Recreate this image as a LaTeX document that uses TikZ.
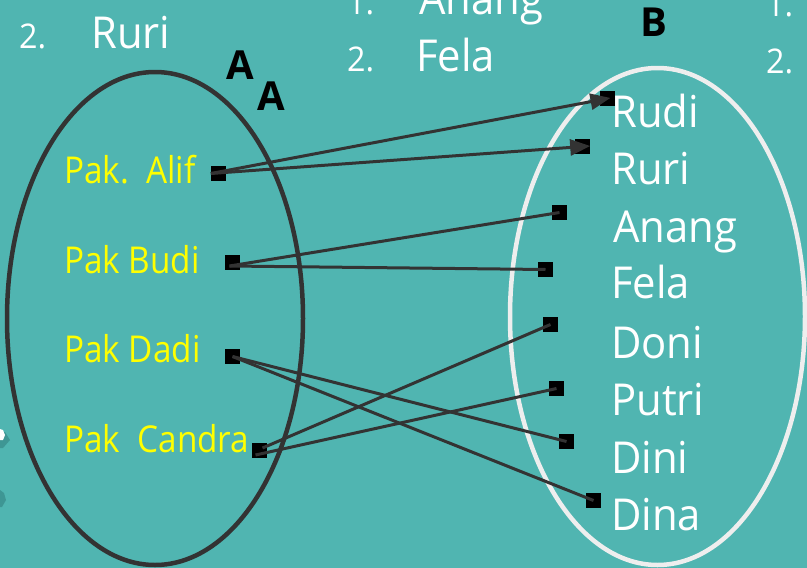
\documentclass[tikz,border=0pt]{standalone}
\usepackage{fontspec}
\setmainfont{Open Sans}[FakeStretch=0.9]
\newfontfamily\rfont{Open Sans}[FakeStretch=0.95]
\newfontfamily\boldfont{Open Sans}
\usetikzlibrary{arrows.meta}
\definecolor{bg}{RGB}{80,181,177}
\definecolor{bgdark}{RGB}{62,150,148}
\definecolor{ink}{RGB}{51,51,51}
\definecolor{rim}{RGB}{238,238,238}
\definecolor{lab}{RGB}{255,255,0}
\tikzset{
  sq/.style={fill=black, draw=none, minimum size=15pt, inner sep=0pt},
  lbl/.style={anchor=base west, inner sep=0pt, text=lab, font=\fontsize{37}{40}\selectfont},
  rlbl/.style={anchor=base west, inner sep=0pt, text=white, font=\rfont\fontsize{44}{48}\selectfont},
  num/.style={anchor=base west, inner sep=0pt, text=white, font=\rfont\fontsize{34}{38}\selectfont},
  setname/.style={anchor=base west, inner sep=0pt, text=black, font=\boldfont\bfseries\fontsize{40}{44}\selectfont},
  link/.style={draw=ink, line width=3pt},
  arr/.style={link, -{Triangle[length=20pt,width=16pt]}}
}
\begin{document}
\begin{tikzpicture}[x=1pt,y=-1pt]
\fill[bg] (0,0) rectangle (807,568);
\useasboundingbox (0,0) rectangle (807,568);
% decorative edge fragments
\fill[bgdark] (0,433) -- (5,432) -- (10,440) -- (3,448) -- (0,448) -- cycle;
\fill[white] (0,429) -- (3,430) -- (5,435) -- (3,440) -- (0,440) -- cycle;
\fill[bgdark] (0,490) -- (4,493) -- (6,500) -- (2,507) -- (0,507) -- cycle;
% top texts
\node[num] (n1) at (19,48) {2.};
\node[rlbl] (t1) at (91,48) {Ruri};
\node[num] (n2) at (347,14) {1.};
\node[rlbl] (t2) at (419,14) {Anang};
\node[num] (n3) at (347,71) {2.};
\node[rlbl] (t3) at (416,71) {Fela};
\node[num] (n4) at (766,16) {1.};
\node[num] (n5) at (766,73) {2.};
% set names
\node[setname] (A1) at (226,79) {A};
\node[setname] (A2) at (257,110) {A};
\node[setname] (B) at (640,36) {B};
% ellipses
\draw[ink, line width=4.5pt] (155,318.5) ellipse [x radius=148pt, y radius=246.5pt];
\draw[rim, line width=4.5pt] (657.5,316.5) ellipse [x radius=147.5pt, y radius=248.5pt];
% left labels
\node[lbl] (lalif) at (64,183) {Pak.\ \ Alif};
\node[lbl] (lbudi) at (64,273) {Pak Budi};
\node[lbl] (ldadi) at (64,362) {Pak Dadi};
\node[lbl] (lcandra) at (64,452) {Pak\ \ Candra};
% right labels
\node[rlbl] (lrudi) at (611,127) {Rudi};
\node[rlbl] (lruri) at (611,184) {Ruri};
\node[rlbl] (lanang) at (613,242) {Anang};
\node[rlbl] (lfela) at (611,298) {Fela};
\node[rlbl] (ldoni) at (611,358) {Doni};
\node[rlbl] (lputri) at (611,415) {Putri};
\node[rlbl] (ldini) at (611,473) {Dini};
\node[rlbl] (ldina) at (611,530) {Dina};
% squares
\node[sq] (alif) at (218.5,173.5) {};
\node[sq] (budi) at (232.5,262) {};
\node[sq] (dadi) at (232.5,356.5) {};
\node[sq] (candra) at (259.5,450) {};
\node[sq] (rudi) at (607.5,98.5) {};
\node[sq] (ruri) at (582.5,146) {};
\node[sq] (anang) at (559.5,212.5) {};
\node[sq] (fela) at (545.5,269.5) {};
\node[sq] (doni) at (550.5,324.5) {};
\node[sq] (putri) at (556.5,388.5) {};
\node[sq] (dini) at (566.5,441.5) {};
\node[sq] (dina) at (593.5,500.5) {};
% connectors
\draw[arr, shorten >=-3pt] (alif.west) -- (rudi.center);
\draw[arr] (alif.west) -- (ruri.east);
\draw[link] ([xshift=-3pt,yshift=-4pt]budi.center) -- (anang.center);
\draw[link] ([xshift=-3pt,yshift=-4pt]budi.center) -- (fela.center);
\draw[link] (dadi.center) -- (dini.center);
\draw[link] (dadi.center) -- (dina.center);
\draw[link] ([xshift=3pt,yshift=2pt]candra.center) -- (doni.center);
\draw[link] ([xshift=-4pt,yshift=-5pt]candra.center) -- (putri.center);
\end{tikzpicture}
\end{document}
